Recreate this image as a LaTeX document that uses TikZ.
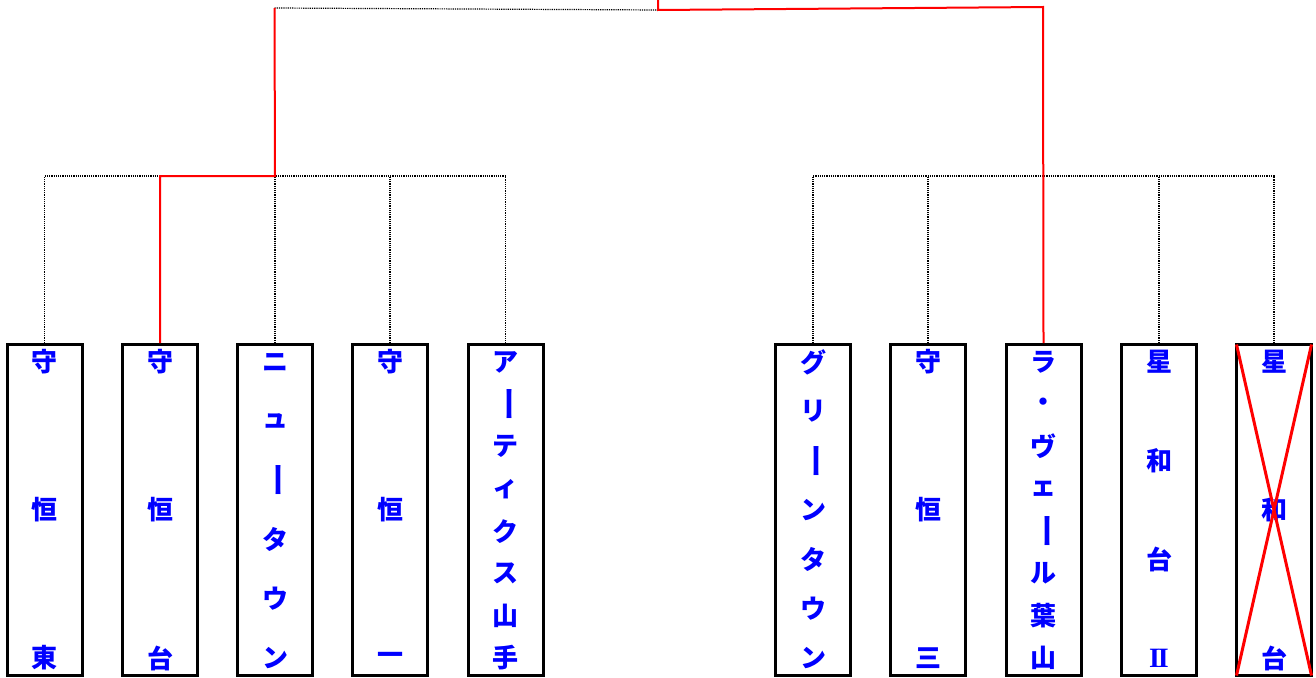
\documentclass[tikz,border=0pt]{standalone}
\usepackage{fontspec}
\usepackage{graphicx}
\newfontfamily\cjk{Noto Sans CJK JP}
\newfontfamily\lsr{Liberation Serif}
\newcommand\vb{\rotatebox[origin=c]{-90}{\scalebox{1.35}[1]{ー}}}
\newcommand\rtwo{{\lsr\bfseries\fontsize{28}{28}\selectfont I\kern-2.2pt I}}
\newcommand\vcol[3]{%
  \foreach \ch [count=\i] in {#3} {%
    \pgfmathsetmacro\yy{362+(\i-1)*296/(#2-1)}%
    \node[txt] (#1-c\i) at (#1.center |- 0,\yy) {\ch};
  }}
\begin{document}
\begin{tikzpicture}[x=1pt,y=-1pt,
  box/.style={draw=black,line width=3pt,minimum width=75pt,minimum height=331pt,inner sep=0pt},
  txt/.style={text=blue,font=\cjk\bfseries\fontsize{26}{26}\selectfont,inner sep=0pt},
  dotl/.style={line width=1.2pt,dash pattern=on 1.2pt off 1pt},
  win/.style={red,line width=2pt},
  cross/.style={red,line width=3pt}]
\useasboundingbox (0,0) rectangle (1316,677);
% boxes
\foreach \n/\x in {1/44.5,2/160,3/275,4/390,5/505.5,6/813,7/928,8/1043.5,9/1159,10/1274}
  \node[box] (b\n) at (\x,510) {};
% texts
\vcol{b1}{3}{守,恒,東}
\vcol{b2}{3}{守,恒,台}
\vcol{b3}{6}{ニ,ュ,\vb,タ,ウ,ン}
\vcol{b4}{3}{守,恒,一}
\vcol{b5}{8}{ア,\vb,テ,ィ,ク,ス,山,手}
\vcol{b6}{7}{グ,リ,\vb,ン,タ,ウ,ン}
\vcol{b7}{3}{守,恒,三}
\vcol{b8}{8}{ラ,・,ヴ,ェ,\vb,ル,葉,山}
\vcol{b9}{4}{星,和,台,\rtwo}
\vcol{b10}{3}{星,和,台}
% junction coordinates
\foreach \n in {1,...,10} \coordinate (h\n) at (b\n.north |- 0,176);
\coordinate (tl) at (274.5,8);
\coordinate (tm) at (658,10);
\coordinate (tr) at (1043,7);
\coordinate (tt) at (658,0);
% dotted connectors
\draw[dotl] (b1.north) -- (h1) -- (h5) -- (b5.north);
\draw[dotl] (b3.north) -- (h3);
\draw[dotl] (b4.north) -- (h4);
\draw[dotl] (b6.north) -- (h6) -- (h10) -- (b10.north);
\draw[dotl] (b7.north) -- (h7);
\draw[dotl] (b9.north) -- (h9);
\draw[dotl] (tl) -- (tm);
% winning path
\draw[win] (b2.north) -- (h2) -- (h3) -- (tl);
\draw[win] (tt) -- (tm) -- (tr) -- (b8.north);
% cross
\draw[cross] ([shift={(1.5,1.5)}]b10.north west) -- ([shift={(-1.5,-1.5)}]b10.south east);
\draw[cross] ([shift={(-1.5,1.5)}]b10.north east) -- ([shift={(1.5,-1.5)}]b10.south west);
\end{tikzpicture}
\end{document}
